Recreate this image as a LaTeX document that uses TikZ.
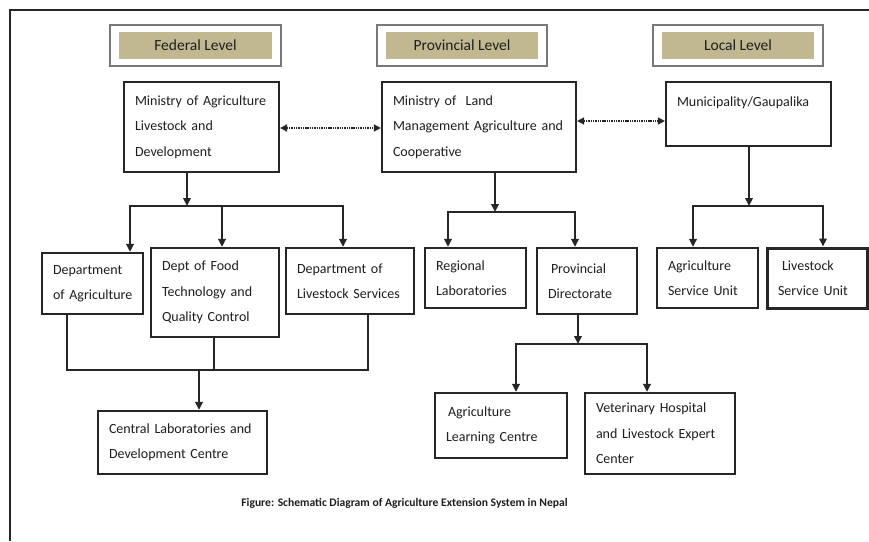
\documentclass[tikz,border=0pt]{standalone}
\usepackage{fontspec}
\setmainfont{Carlito}
\usetikzlibrary{arrows.meta}
\definecolor{hdrfill}{RGB}{193,184,146}
\definecolor{txt}{RGB}{30,30,30}
\definecolor{hdrframe}{RGB}{120,120,120}
\hyphenpenalty=10000
\exhyphenpenalty=10000
\begin{document}
\begin{tikzpicture}[x=1pt,y=-1pt,
  box/.style={draw=black!85, line width=2.2pt, fill=white, align=left,
    inner xsep=11pt, inner ysep=0pt, text=txt,
    font=\fontsize{14}{25.5}\selectfont},
  hdr/.style={fill=hdrfill, draw=none, inner sep=0pt, minimum width=152pt,
    minimum height=27pt, text=txt, font=\fontsize{15.5}{18}\selectfont},
  hdrbox/.style={draw=hdrframe, line width=1.8pt},
  conn/.style={draw=black!85, line width=2pt, line cap=rect},
  arr/.style={conn, -{Triangle[width=7.5pt,length=8pt]}},
  darr/.style={draw=black!85, line width=1.6pt, dash pattern=on 1.4pt off 0.9pt,
    {Triangle[width=7pt,length=7pt]}-{Triangle[width=7pt,length=7pt]}},
  captext/.style={text=txt, font=\fontsize{11.6}{13}\selectfont\bfseries}]
\useasboundingbox (0,0) rectangle (869,541);
% outer frame
\draw[line width=2.2pt, draw=black!85] (869,10) -- (10,10) -- (10,541);
% headers
\node[hdr, minimum width=153pt] (fed) at (195.5,45.5) {Federal Level};
\node[hdr] (prov) at (462,45.5) {Provincial Level};
\node[hdr] (loc) at (738,45.5) {Local Level};
\foreach \h in {fed,prov,loc}{
  \draw[hdrbox] ([shift={(-9,-7)}]\h.north west) rectangle ([shift={(9,7)}]\h.south east);
}
% level 1
\node[box, text width=133pt, minimum height=90pt] (moald) at (201.5,127)
  {Ministry~of~Agriculture\\Livestock~and\\Development};
\node[box, text width=172pt, minimum height=90pt] (molmac) at (479,127)
  {Ministry~of~~Land\\Management~Agriculture~and\\Cooperative};
\node[box, text width=143pt, minimum height=64pt] (muni) at (748.5,114)
  {Municipality/Gaupalika\\~};
% federal level 2
\node[box, text width=79pt, minimum height=61pt] (dagri) at (92.5,283.5)
  {Department\\of~Agriculture};
\node[box, text width=106pt, minimum height=89pt] (dfood) at (215,292.5)
  {Dept~of~Food\\Technology~and\\Quality~Control};
\node[box, text width=106pt, minimum height=66pt] (dlive) at (350,281)
  {Department~of\\Livestock~Services};
\node[box, text width=147pt, minimum height=63pt] (clab) at (182.5,442.5)
  {Central~Laboratories~and\\Development~Centre};
% provincial level 2
\node[box, text width=79pt, minimum height=60pt] (rlab) at (475.5,278)
  {Regional\\Laboratories};
\node[box, text width=78pt, minimum height=66pt] (pdir) at (587,281)
  {\hspace*{3pt}Provincial\\Directorate};
\node[box, text width=110pt, minimum height=65pt] (alc) at (501,425.5)
  {\hspace*{2pt}Agriculture\\Learning~Centre};
\node[box, text width=128pt, minimum height=81pt] (vet) at (660,433.5)
  {Veterinary~Hospital\\and~Livestock~Expert\\Center};
% local level 2
\node[box, text width=79pt, minimum height=60pt] (asu) at (707.5,278)
  {Agriculture\\Service~Unit};
\node[box, line width=3pt, text width=78pt, minimum height=60pt] (lsu) at (817,278)
  {\hspace*{4pt}Livestock\\Service~Unit};
% dotted links
\coordinate (d1) at (0,128);
\coordinate (d2) at (0,121);
\draw[darr] (moald.east |- d1) -- (molmac.west |- d1);
\draw[darr] (molmac.east |- d2) -- (muni.west |- d2);
% federal tree
\coordinate (f1) at (187,206);
\coordinate (f1l) at (130,206);
\coordinate (f1m) at (222,206);
\coordinate (f1r) at (343,206);
\draw[arr] (moald.south -| f1) -- (f1);
\draw[conn] (f1l) -- (f1r);
\draw[arr] (f1l) -- (f1l |- dagri.north);
\draw[arr] (f1m) -- (f1m |- dfood.north);
\draw[arr] (f1r) -- (f1r |- dlive.north);
\coordinate (f2) at (199,370);
\coordinate (f2l) at (67,370);
\coordinate (f2m) at (214,370);
\coordinate (f2r) at (368,370);
\draw[conn] (dagri.south -| f2l) -- (f2l) -- (f2r) -- (dlive.south -| f2r);
\draw[conn] (dfood.south -| f2m) -- (f2m);
\draw[arr] (f2) -- (f2 |- clab.north);
% provincial tree
\coordinate (p1) at (495,212);
\coordinate (p1l) at (448,212);
\coordinate (p1r) at (575,212);
\draw[arr] (molmac.south -| p1) -- (p1);
\draw[conn] (p1l) -- (p1r);
\draw[arr] (p1l) -- (p1l |- rlab.north);
\draw[arr] (p1r) -- (p1r |- pdir.north);
\coordinate (p2) at (578,344);
\coordinate (p2l) at (516,344);
\coordinate (p2r) at (647,344);
\draw[arr] (pdir.south -| p2) -- (p2);
\draw[conn] (p2l) -- (p2r);
\draw[arr] (p2l) -- (p2l |- alc.north);
\draw[arr] (p2r) -- (p2r |- vet.north);
% local tree
\coordinate (l1) at (749,206);
\coordinate (l1l) at (693,206);
\coordinate (l1r) at (823,206);
\draw[arr] (muni.south -| l1) -- (l1);
\draw[conn] (l1l) -- (l1r);
\draw[arr] (l1l) -- (l1l |- asu.north);
\draw[arr] (l1r) -- (l1r |- lsu.north);
% caption
\node[captext] (caption) at (404.5,503) {Figure: Schematic Diagram of Agriculture Extension System in Nepal};
\end{tikzpicture}
\end{document}
